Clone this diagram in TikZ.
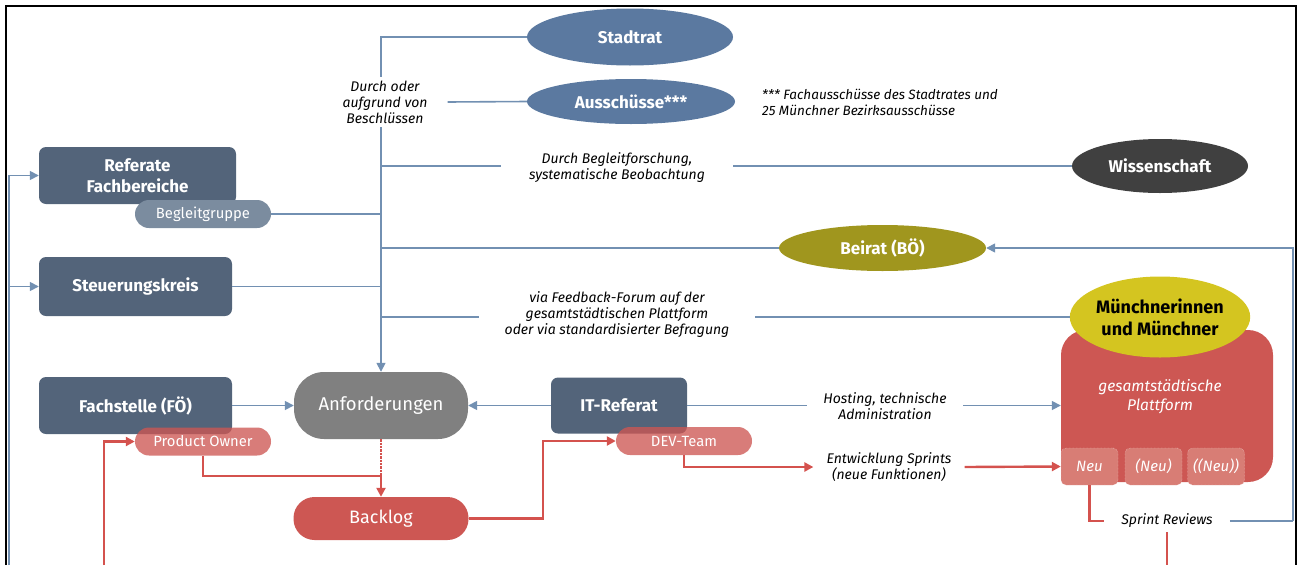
\documentclass[tikz,border=0pt]{standalone}
\usepackage{fontspec}
\setmainfont{Fira Sans}
\usepackage{tikz}
\usetikzlibrary{shapes,arrows.meta,positioning}

\definecolor{boxblue}{HTML}{53647A}
\definecolor{ellblue}{HTML}{5B79A0}
\definecolor{lineblue}{HTML}{7290B2}
\definecolor{anfgray}{HTML}{808080}
\definecolor{begleit}{HTML}{7B8C9F}
\definecolor{redbox}{HTML}{CD5753}
\definecolor{redline}{HTML}{D4524E}
\definecolor{salmon}{HTML}{D87D75}
\definecolor{olive}{HTML}{A0961E}
\definecolor{mgelb}{HTML}{D4C520}
\definecolor{wiss}{HTML}{404040}

\tikzset{
  darkbox/.style={fill=boxblue,text=white,font=\bfseries\fontsize{17}{21}\selectfont,rounded corners=7pt,align=center,inner sep=0pt},
  pill/.style={text=white,font=\fontsize{14.8}{16}\selectfont,rounded corners=14pt,minimum width=136,minimum height=28,inner sep=0pt},
  ell/.style={ellipse,text=white,font=\bfseries\fontsize{17}{21}\selectfont,inner sep=0pt,align=center},
  neu/.style={fill=salmon,draw=white!65!salmon,densely dotted,rounded corners=5pt,minimum width=57,minimum height=37,inner sep=0pt,text=white,font=\itshape\fontsize{15}{16}\selectfont},
  lbl/.style={fill=white,font=\itshape\fontsize{14}{16}\selectfont,align=center,inner xsep=18pt,inner ysep=4pt},
  bline/.style={draw=lineblue,line width=1.6pt},
  rline/.style={draw=redline,line width=2.4pt},
  pfeil/.style={-{Triangle[length=9pt,width=9pt]}}
}

\begin{document}
\begin{tikzpicture}[x=1pt,y=-1pt]
  \useasboundingbox (0,0) rectangle (1297,565);
  % rahmen
  \draw[line width=2pt] (6,565) -- (6,6) -- (1296,6) -- (1296,565);

  % linke spalte
  \node[darkbox,minimum width=197,minimum height=57] (referate) at (137.5,175.5) {Referate\\Fachbereiche};
  \node[pill,fill=begleit] (begleit) at (203,214) {Begleitgruppe};
  \node[darkbox,minimum width=193,minimum height=59] (steuer) at (135.5,286.5) {Steuerungskreis};
  \node[darkbox,minimum width=193,minimum height=57] (fach) at (135.5,405.5) {Fachstelle (FÖ)};
  \node[pill,fill=redbox,fill opacity=0.78,text opacity=1] (po) at (203,441.5) {Product Owner};

  % mitte
  \node[ell,fill=ellblue,minimum width=206,minimum height=57] (stadtrat) at (630,37) {Stadtrat};
  \node[ell,fill=ellblue,minimum width=208,minimum height=45] (aussch) at (631,101.5) {Ausschüsse***};
  \node[anchor=west,font=\itshape\fontsize{13.5}{16}\selectfont,align=left,inner sep=0pt] (fussnote) at (762,102) {*** Fachausschüsse des Stadtrates und\\25 Münchner Bezirksausschüsse};
  \node[ell,fill=wiss,minimum width=176,minimum height=54] (wiss) at (1160,166) {Wissenschaft};
  \node[ell,fill=olive,minimum width=207,minimum height=46] (beirat) at (882.5,248) {Beirat (BÖ)};
  \node[fill=anfgray,text=white,rounded corners=30pt,minimum width=174,minimum height=67,inner sep=0pt,font=\fontsize{18.5}{20}\selectfont] (anf) at (381,405.5) {Anforderungen};
  \node[fill=redbox,text=white,rounded corners=21pt,minimum width=175,minimum height=43,inner sep=0pt,font=\fontsize{18}{20}\selectfont] (backlog) at (381,518.5) {Backlog};
  \node[darkbox,minimum width=136,minimum height=56] (it) at (619,405.5) {IT-Referat};
  \node[pill,fill=redbox,fill opacity=0.78,text opacity=1] (dev) at (684,441) {DEV-Team};

  % rechts
  \node[fill=redbox,rounded corners=25pt,minimum width=212,minimum height=152] (plattform) at (1167,406) {};
  \node[text=white,font=\itshape\fontsize{15.5}{19}\selectfont,align=center] (pftext) at (1160,397) {gesamtstädtische\\Plattform};
  \node[ell,fill=mgelb,text=black,minimum width=176,minimum height=81,font=\bfseries\fontsize{18}{22}\selectfont] (muench) at (1160,317) {Münchnerinnen\\und Münchner};
  \node[neu] (neu1) at (1089.5,466.5) {Neu};
  \node[neu] (neu2) at (1153.5,466.5) {(Neu)};
  \node[neu] (neu3) at (1216,466.5) {((Neu))};

  % blaue verbindungen
  \draw[bline,pfeil] (stadtrat.west) -| (anf.north);
  \draw[bline] (anf.north |- wiss.west) -- (wiss.west);
  \draw[bline] (begleit.east) -- (begleit.east -| anf.north);
  \draw[bline] (anf.north |- beirat.west) -- (beirat.west);
  \draw[bline] (steuer.east) -- (steuer.east -| anf.north);
  \draw[bline] (anf.north |- muench.west) -- (muench.west);
  \draw[bline,pfeil] (fach.east) -- (anf.west);
  \draw[bline,pfeil] (it.west) -- (anf.east);
  \draw[bline,pfeil] (it.east) -- (it.east -| plattform.west);
  \coordinate (lu) at (9,565);
  \draw[bline,pfeil] (lu) |- (referate.west);
  \draw[bline,pfeil] (lu |- steuer.west) -- (steuer.west);

  % rote verbindungen
  \coordinate (j) at (381,476);
  \coordinate (ru) at (104,565);
  \draw[rline,densely dotted] (anf.south) -- (j);
  \draw[rline] (po.south) |- (j);
  \draw[rline,pfeil] (j) -- (backlog.north);
  \draw[rline,pfeil] (ru) |- (po.west);
  \draw[rline,pfeil] (backlog.east) -- ++(74,0) |- (dev.west);

  % beschriftungen
  \node[lbl,inner xsep=20pt] (beschl) at (385,102) {Durch oder\\aufgrund von\\Beschlüssen};
  \node[lbl,inner xsep=28pt] (forsch) at (617,168) {Durch Begleitforschung,\\systematische Beobachtung};
  \node[lbl,inner xsep=26pt] (feedback) at (617,315) {via Feedback-Forum auf der\\gesamtstädtischen Plattform\\oder via standardisierter Befragung};
  \node[lbl,inner xsep=16pt] (hosting) at (885,406) {Hosting, technische\\Administration};
  \node[lbl,inner xsep=13pt] (entw) at (889,467) {Entwicklung Sprints\\(neue Funktionen)};
  \node[lbl,inner xsep=17pt] (sprint) at (1167,521) {Sprint Reviews};

  \draw[bline] (beschl.east) -- (aussch.west);
  \draw[rline,pfeil] (dev.south) |- (entw.west);
  \draw[rline,pfeil] (entw.east) -- (neu1.west);
  \draw[rline] (neu1.south) |- (sprint.west);
  \draw[rline] (sprint.south) -- (sprint.south |- ru);
  \coordinate (rr) at (1293,521);
  \draw[bline] (sprint.east) -- (rr);
  \draw[bline,pfeil] (rr) |- (beirat.east);
\end{tikzpicture}
\end{document}
